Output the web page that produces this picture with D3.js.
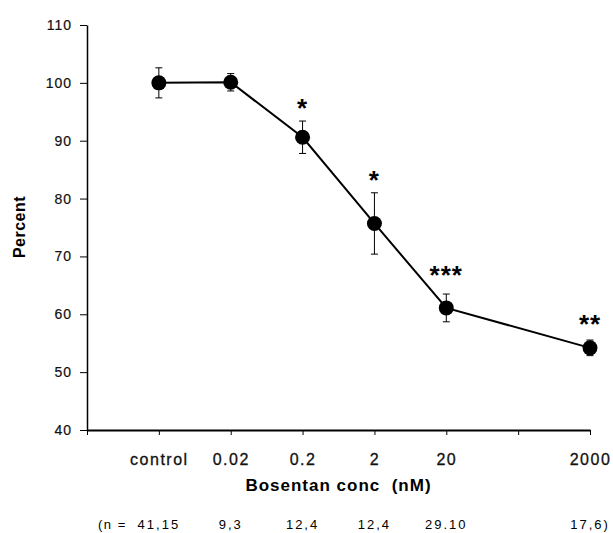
<!DOCTYPE html>
<html>
<head>
<meta charset="utf-8">
<script src="https://cdn.jsdelivr.net/npm/d3@7"></script>
<style>
	body { margin: 0; background: #fff; }
	svg { font-family: "Liberation Sans", Arial, sans-serif; }
</style>
</head>
<body>
<svg id="chart" width="613" height="533"></svg>
<script>
// tick slots along the x axis ('' = unlabelled tick)
const tickLabels = ['', 'control', '0.02', '0.2', '2', '20', '', '2000'];
const doses = ['control', '0.02', '0.2', '2', '20', '2000'];
const percent = [100, 100.1, 90.6, 75.7, 61.1, 54.2];
const sem = [2.6, 1.5, 2.8, 5.3, 2.4, 1.35];
const stars = ['', '', '*', '*', '***', '**'];
const nLabels = ['41,15', '9,3', '12,4', '12,4', '29.10', '17,6)'];
const yTicks = [40, 50, 60, 70, 80, 90, 100, 110];

const data = doses.map((d, i) => ({
	dose: d,
	slot: tickLabels.indexOf(d),
	value: percent[i],
	err: sem[i],
	star: stars[i],
	n: nLabels[i]
}));

const svg = d3.select('#chart');

let x = d3.scaleLinear()
	.domain([0, tickLabels.length - 1])
	.range([87, 590]);

let y = d3.scaleLinear()
	.domain([40, 110])
	.range([430, 25]);

// y axis
const yAxis = svg.append('g')
	.attr('transform', `translate(${x(0)},0)`)
	.call(d3.axisLeft(y).tickValues(yTicks).tickSize(7).tickPadding(8).tickSizeOuter(0));
yAxis.select('.domain').attr('stroke-width', 1.5);
yAxis.selectAll('text')
	.attr('font-size', 14)
	.attr('letter-spacing', 1)
	.attr('fill', '#111')
	.attr('stroke', '#111')
	.attr('stroke-width', 0.2);

// x axis
const xAxis = svg.append('g')
	.attr('transform', `translate(0,${y(40)})`)
	.call(d3.axisBottom(x)
		.tickValues(d3.range(tickLabels.length))
		.tickFormat(i => tickLabels[i])
		.tickSize(5).tickPadding(19).tickSizeOuter(0));
xAxis.select('.domain').attr('stroke-width', 1.8);
xAxis.selectAll('text')
	.attr('font-size', 16)
	.attr('letter-spacing', 1.5)
	.attr('fill', '#111')
	.attr('stroke', '#111')
	.attr('stroke-width', 0.3);

// axis titles
svg.append('text')
	.attr('x', (x(0) + x(7)) / 2)
	.attr('y', 491)
	.attr('text-anchor', 'middle')
	.attr('font-size', 17)
	.attr('font-weight', 'bold')
	.attr('letter-spacing', 1)
	.attr('xml:space', 'preserve')
	.text('Bosentan conc  (nM)');

svg.append('text')
	.attr('transform', 'translate(25,227) rotate(-90)')
	.attr('text-anchor', 'middle')
	.attr('font-size', 16)
	.attr('font-weight', 'bold')
	.attr('letter-spacing', 0.5)
	.text('Percent');

// n row
svg.append('text')
	.attr('x', x(0) + 11)
	.attr('y', 529)
	.attr('font-size', 13)
	.attr('letter-spacing', 1.5)
	.attr('xml:space', 'preserve')
	.text('(n =');

svg.selectAll('.nlab')
	.data(data)
	.enter()
	.append('text')
	.attr('class', 'nlab')
	.attr('x', d => x(d.slot))
	.attr('y', 529)
	.attr('text-anchor', 'middle')
	.attr('font-size', 13)
	.attr('letter-spacing', 2)
	.text(d => d.n);

// connecting line
svg.append('path')
	.datum(data)
	.attr('fill', 'none')
	.attr('stroke', '#000')
	.attr('stroke-width', 2)
	.attr('d', d3.line().x(d => x(d.slot)).y(d => y(d.value)));

// error bars
let bars = svg.selectAll('.err')
	.data(data)
	.enter()
	.append('g')
	.attr('class', 'err')
	.attr('stroke', '#000')
	.attr('stroke-width', 1);

bars.append('line')
	.attr('x1', d => x(d.slot)).attr('x2', d => x(d.slot))
	.attr('y1', d => y(d.value + d.err)).attr('y2', d => y(d.value - d.err));
bars.append('line')
	.attr('x1', d => x(d.slot) - 3.5).attr('x2', d => x(d.slot) + 3.5)
	.attr('y1', d => y(d.value + d.err)).attr('y2', d => y(d.value + d.err));
bars.append('line')
	.attr('x1', d => x(d.slot) - 3.5).attr('x2', d => x(d.slot) + 3.5)
	.attr('y1', d => y(d.value - d.err)).attr('y2', d => y(d.value - d.err));

// markers
svg.selectAll('.dot')
	.data(data)
	.enter()
	.append('circle')
	.attr('class', 'dot')
	.attr('cx', d => x(d.slot))
	.attr('cy', d => y(d.value))
	.attr('r', 7.5)
	.attr('fill', '#000');

// significance stars, stacked a bit higher when there are more of them
svg.selectAll('.star')
	.data(data.filter(d => d.star))
	.enter()
	.append('text')
	.attr('class', 'star')
	.attr('x', d => x(d.slot))
	.attr('y', d => y(d.value + d.err) - 4 - (d.star.length - 1) * 3)
	.attr('text-anchor', 'middle')
	.attr('font-size', 26)
	.attr('font-weight', 'bold')
	.attr('letter-spacing', 1)
	.text(d => d.star);
</script>
</body>
</html>
